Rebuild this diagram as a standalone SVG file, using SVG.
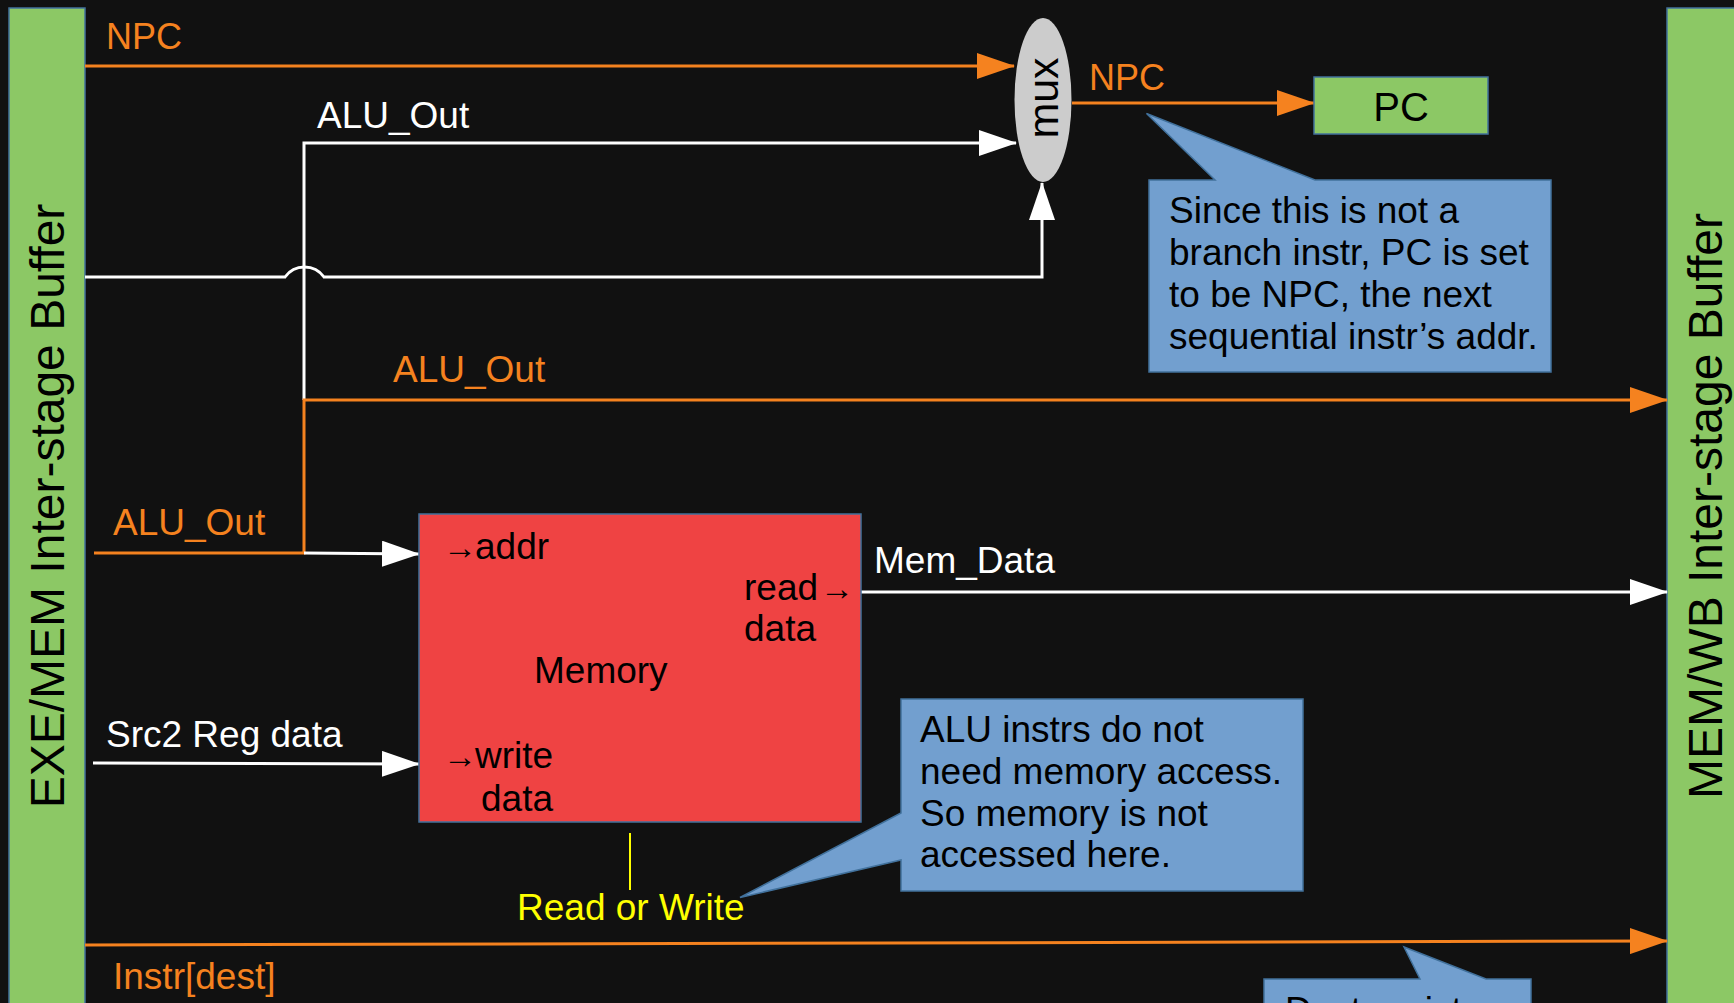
<svg xmlns="http://www.w3.org/2000/svg" width="1734" height="1003" viewBox="0 0 1734 1003">
<defs>
<style>
text{font-family:"Liberation Sans",Arial,sans-serif;}
.buf{fill:#8CC865;stroke:#41719C;stroke-width:1.5}
.bt{font-size:48px;fill:#000;text-anchor:middle}
.lbl{font-size:37px}
.o{fill:#F5821F}
.w{fill:#FFFFFF}
.k{fill:#000000}
.ol{fill:none;stroke:#F5821F;stroke-width:3}
.wl{fill:none;stroke:#FFFFFF;stroke-width:3}
.call{fill:#729FCF;stroke:#41719C;stroke-width:1.5}
.ct{font-size:37px;fill:#000}
.arr{font-size:34px}
</style>
<marker id="ao" markerUnits="userSpaceOnUse" markerWidth="38" markerHeight="26" viewBox="0 0 38 26" refX="37" refY="13" orient="auto"><path d="M0,0 L38,13 L0,26 z" fill="#F5821F"/></marker>
<marker id="aw" markerUnits="userSpaceOnUse" markerWidth="38" markerHeight="26" viewBox="0 0 38 26" refX="37" refY="13" orient="auto"><path d="M0,0 L38,13 L0,26 z" fill="#FFFFFF"/></marker>
</defs>
<rect x="0" y="0" width="1734" height="1003" fill="#111111"/>

<g id="exe-mem-buffer">
<rect class="buf" x="9" y="8" width="76" height="1010"/>
<text class="bt" transform="translate(64,506) rotate(-90)">EXE/MEM Inter-stage Buffer</text>
</g>

<g id="mem-wb-buffer">
<rect class="buf" x="1667" y="8" width="80" height="1010"/>
<text class="bt" transform="translate(1722,506) rotate(-90)">MEM/WB Inter-stage Buffer</text>
</g>

<g id="connectors">
<path class="ol" d="M85,66 H1014" marker-end="url(#ao)"/>
<path class="wl" d="M304,400 V143 H1016" marker-end="url(#aw)"/>
<path class="wl" d="M85,277 H285 A24,24 0 0 1 324,277 H1042 V183" marker-end="url(#aw)"/>
<path class="ol" d="M1072,103 H1314" marker-end="url(#ao)"/>
<path class="ol" d="M94,553 H304 V400 H1667" marker-end="url(#ao)"/>
<path class="wl" d="M304,553 L419,554" marker-end="url(#aw)"/>
<path class="wl" d="M93,763 L419,764" marker-end="url(#aw)"/>
<path class="wl" d="M861,592 H1667" marker-end="url(#aw)"/>
<path class="ol" d="M85,945 L1667,941" marker-end="url(#ao)"/>
<line x1="630" y1="833" x2="630" y2="890" stroke="#FFFF00" stroke-width="2"/>
</g>

<g id="labels">
<text class="lbl o" x="106" y="49" style="font-size:36px">NPC</text>
<text class="lbl w" x="317" y="128">ALU_Out</text>
<text class="lbl o" x="1089" y="90" style="font-size:36px">NPC</text>
<text class="lbl o" x="393" y="382">ALU_Out</text>
<text class="lbl o" x="113" y="535">ALU_Out</text>
<text class="lbl w" x="874" y="573">Mem_Data</text>
<text class="lbl w" x="106" y="747">Src2 Reg data</text>
<text class="lbl" x="517" y="920" fill="#FFFF00">Read or Write</text>
<text class="lbl o" x="113" y="989">Instr[dest]</text>
</g>

<g id="mux">
<ellipse cx="1043" cy="100" rx="28.5" ry="82" fill="#CCCCCC"/>
<text transform="translate(1058,98) rotate(-90)" text-anchor="middle" style="font-size:43px" fill="#000">mux</text>
</g>

<g id="pc">
<rect x="1314" y="77" width="174" height="57" fill="#8CC865" stroke="#41719C" stroke-width="1.5"/>
<text x="1401" y="121" text-anchor="middle" style="font-size:40px" fill="#000">PC</text>
</g>

<g id="memory">
<rect x="419" y="514" width="442" height="308" fill="#EF4343" stroke="#41719C" stroke-width="1.5"/>
<text class="ct" x="443" y="559"><tspan class="arr">→</tspan><tspan x="475">addr</tspan></text>
<text class="ct" x="744" y="600">read<tspan class="arr" dx="2">→</tspan></text>
<text class="ct" x="744" y="641">data</text>
<text class="ct" x="534" y="683">Memory</text>
<text class="ct" x="443" y="768"><tspan class="arr">→</tspan><tspan x="475">write</tspan></text>
<text class="ct" x="481" y="811">data</text>
</g>

<g id="callout-npc">
<path class="call" d="M1149,180 H1215 L1146.5,113.5 L1315,180 H1551 V372 H1149 Z"/>
<text class="ct" x="1169" y="223">Since this is not a</text>
<text class="ct" x="1169" y="265">branch instr, PC is set</text>
<text class="ct" x="1169" y="307">to be NPC, the next</text>
<text class="ct" x="1169" y="349">sequential instr’s addr.</text>
</g>

<g id="callout-mem">
<path class="call" d="M901,699 H1303 V891 H901 V860 L740,897.5 L901,813 Z"/>
<text class="ct" x="920" y="742">ALU instrs do not</text>
<text class="ct" x="920" y="784">need memory access.</text>
<text class="ct" x="920" y="826">So memory is not</text>
<text class="ct" x="920" y="867">accessed here.</text>
</g>

<g id="callout-dest">
<path class="call" d="M1264,979 H1420 L1404,947 L1486,979 H1531 V1020 H1264 Z"/>
<text class="ct" x="1285" y="1023">Dest register</text>
</g>
</svg>
